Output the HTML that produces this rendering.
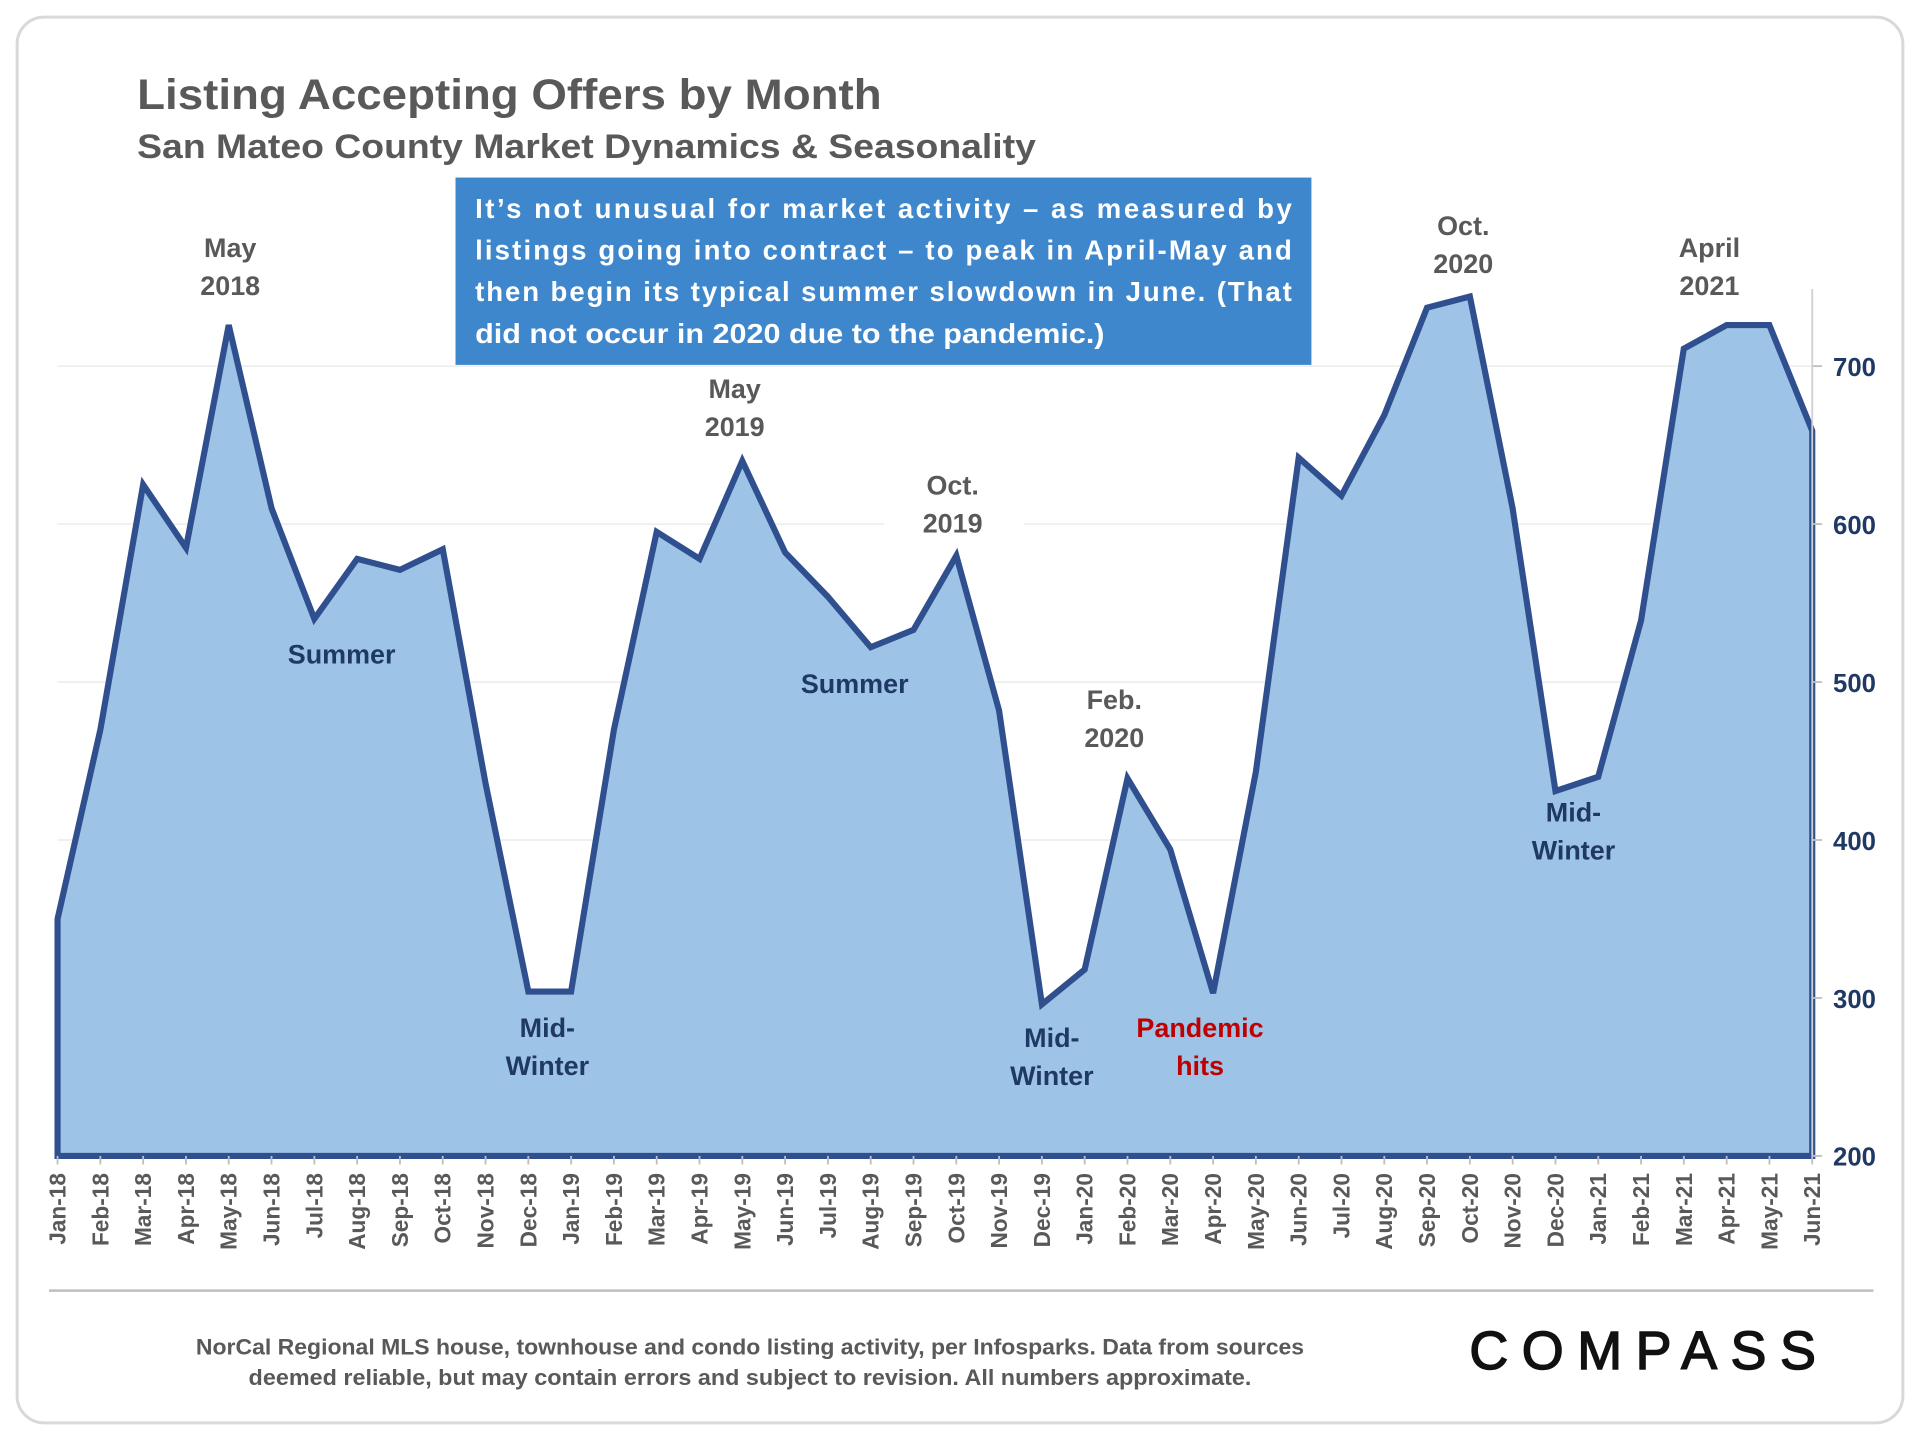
<!DOCTYPE html>
<html><head><meta charset="utf-8"><style>
html,body{margin:0;padding:0;background:#fff;}
svg{display:block;font-family:"Liberation Sans",sans-serif;}
</style></head><body>
<svg id="chart" width="1920" height="1440" viewBox="0 0 1568 1176" xmlns="http://www.w3.org/2000/svg">
<rect x="14" y="14" width="1540" height="1148" rx="22" fill="#fff" stroke="#d9d9d9" stroke-width="2.5"/>
<text x="112" y="89" font-size="35" font-weight="bold" fill="#595959" textLength="608" lengthAdjust="spacingAndGlyphs">Listing Accepting Offers by Month</text>
<text x="112" y="129" font-size="28" font-weight="bold" fill="#595959" textLength="734" lengthAdjust="spacingAndGlyphs">San Mateo County Market Dynamics &amp; Seasonality</text>
<g id="grid"></g>
<g id="plot"></g>
<g id="yticks"></g>
<g id="xticks"></g>
<rect x="372" y="145" width="699" height="153" fill="#3f87cd"/>
<g font-size="22.5" font-weight="bold" fill="#fff">
<text x="388" y="178" textLength="667" lengthAdjust="spacing">It’s not unusual for market activity – as measured by</text>
<text x="388" y="212" textLength="667" lengthAdjust="spacing">listings going into contract – to peak in April-May and</text>
<text x="388" y="246" textLength="667" lengthAdjust="spacing">then begin its typical summer slowdown in June. (That</text>
<text x="388" y="280" textLength="514" lengthAdjust="spacingAndGlyphs">did not occur in 2020 due to the pandemic.)</text>
</g>
<g font-size="22" font-weight="bold" text-anchor="middle">
<text x="188" y="210" fill="#595959">May</text><text x="188" y="241" fill="#595959">2018</text>
<text x="600" y="325" fill="#595959">May</text><text x="600" y="356" fill="#595959">2019</text>
<rect x="722" y="380" width="114" height="62" fill="#fff"/>
<text x="778" y="404" fill="#595959">Oct.</text><text x="778" y="435" fill="#595959">2019</text>
<text x="910" y="579" fill="#595959">Feb.</text><text x="910" y="610" fill="#595959">2020</text>
<text x="1195" y="192" fill="#595959">Oct.</text><text x="1195" y="223" fill="#595959">2020</text>
<text x="1396" y="210" fill="#595959">April</text><text x="1396" y="241" fill="#595959">2021</text>
<text x="279" y="542" fill="#1f3864">Summer</text>
<text x="698" y="566" fill="#1f3864">Summer</text>
<text x="447" y="847" fill="#1f3864">Mid-</text><text x="447" y="878" fill="#1f3864">Winter</text>
<text x="859" y="855" fill="#1f3864">Mid-</text><text x="859" y="886" fill="#1f3864">Winter</text>
<text x="1285" y="671" fill="#1f3864">Mid-</text><text x="1285" y="702" fill="#1f3864">Winter</text>
<text x="980" y="847" fill="#c00000">Pandemic</text><text x="980" y="878" fill="#c00000">hits</text>
</g>
<line x1="40" y1="1054" x2="1530" y2="1054" stroke="#bfbfbf" stroke-width="2"/>
<g font-size="18" font-weight="bold" fill="#595959">
<text x="160" y="1106" textLength="905" lengthAdjust="spacingAndGlyphs">NorCal Regional MLS house, townhouse and condo listing activity, per Infosparks. Data from sources</text>
<text x="203" y="1131" textLength="819" lengthAdjust="spacingAndGlyphs">deemed reliable, but may contain errors and subject to revision. All numbers approximate.</text>
</g>
<text x="1200" y="1118" font-size="44" fill="#111" stroke="#111" stroke-width="1.2" textLength="283" lengthAdjust="spacing">COMPASS</text>
</svg>
<script>
const months = ["Jan-18","Feb-18","Mar-18","Apr-18","May-18","Jun-18","Jul-18","Aug-18","Sep-18","Oct-18","Nov-18","Dec-18","Jan-19","Feb-19","Mar-19","Apr-19","May-19","Jun-19","Jul-19","Aug-19","Sep-19","Oct-19","Nov-19","Dec-19","Jan-20","Feb-20","Mar-20","Apr-20","May-20","Jun-20","Jul-20","Aug-20","Sep-20","Oct-20","Nov-20","Dec-20","Jan-21","Feb-21","Mar-21","Apr-21","May-21","Jun-21"];
const listings = [350,470,625,585,726,610,540,578,571,584,436,304,304,470,595,578,640,582,554,522,533,580,482,296,318,439,394,303,443,642,618,669,737,744,610,431,440,539,711,726,726,659];
const yTicks = [200,300,400,500,600,700];
const NS="http://www.w3.org/2000/svg";
const X0=47,X1=1480,Y0=944,Y1=299,V0=200,V1=700;
const xs=i=>X0+(X1-X0)*i/(months.length-1);
const ys=v=>Y0-(v-V0)*(Y0-Y1)/(V1-V0);
function mk(t,a,p){const e=document.createElementNS(NS,t);for(const k in a)e.setAttribute(k,a[k]);p.appendChild(e);return e;}
const grid=document.getElementById('grid'),plot=document.getElementById('plot'),yt=document.getElementById('yticks'),xt=document.getElementById('xticks');
yTicks.forEach(v=>{
  if(v>V0){const g=mk('line',{x1:X0,x2:X1,y1:ys(v),y2:ys(v),stroke:'#ececec','stroke-width':1.2},grid);
  
  }
  const t=mk('text',{x:1497,y:ys(v)+8,'font-size':21,'font-weight':'bold',fill:'#1f3864'},yt);
  t.textContent=v;
  
  
  mk('line',{x1:X1,x2:X1+8,y1:ys(v),y2:ys(v),stroke:'#bfbfbf','stroke-width':1.5},yt);
});
mk('line',{x1:X1,x2:X1,y1:236,y2:Y0,stroke:'#d0d0d0','stroke-width':1.5},yt);
let d='M'+X0+','+Y0;
listings.forEach((v,i)=>{d+=' L'+xs(i).toFixed(1)+','+ys(v).toFixed(1);});
const area=mk('path',{d:d+' L'+X1+','+Y0+' Z',fill:'#9dc3e6'},plot);


const line=mk('path',{d:d.replace('M'+X0+','+Y0+' L','M')+' L'+X1+','+Y0+' L'+X0+','+Y0+' Z',fill:'none',stroke:'#2f4f8f','stroke-width':5,'stroke-linejoin':'miter'},plot);


months.forEach((m,i)=>{
  mk('line',{x1:xs(i),x2:xs(i),y1:Y0,y2:Y0+7,stroke:'#bfbfbf','stroke-width':1.5},xt);
  const t=mk('text',{x:0,y:0,'font-size':18.5,'font-weight':'bold',fill:'#595959','text-anchor':'end',transform:`translate(${xs(i)+6.5},${Y0+14}) rotate(-90)`},xt);
  t.textContent=m;
  
  
});
</script>
</body></html>
